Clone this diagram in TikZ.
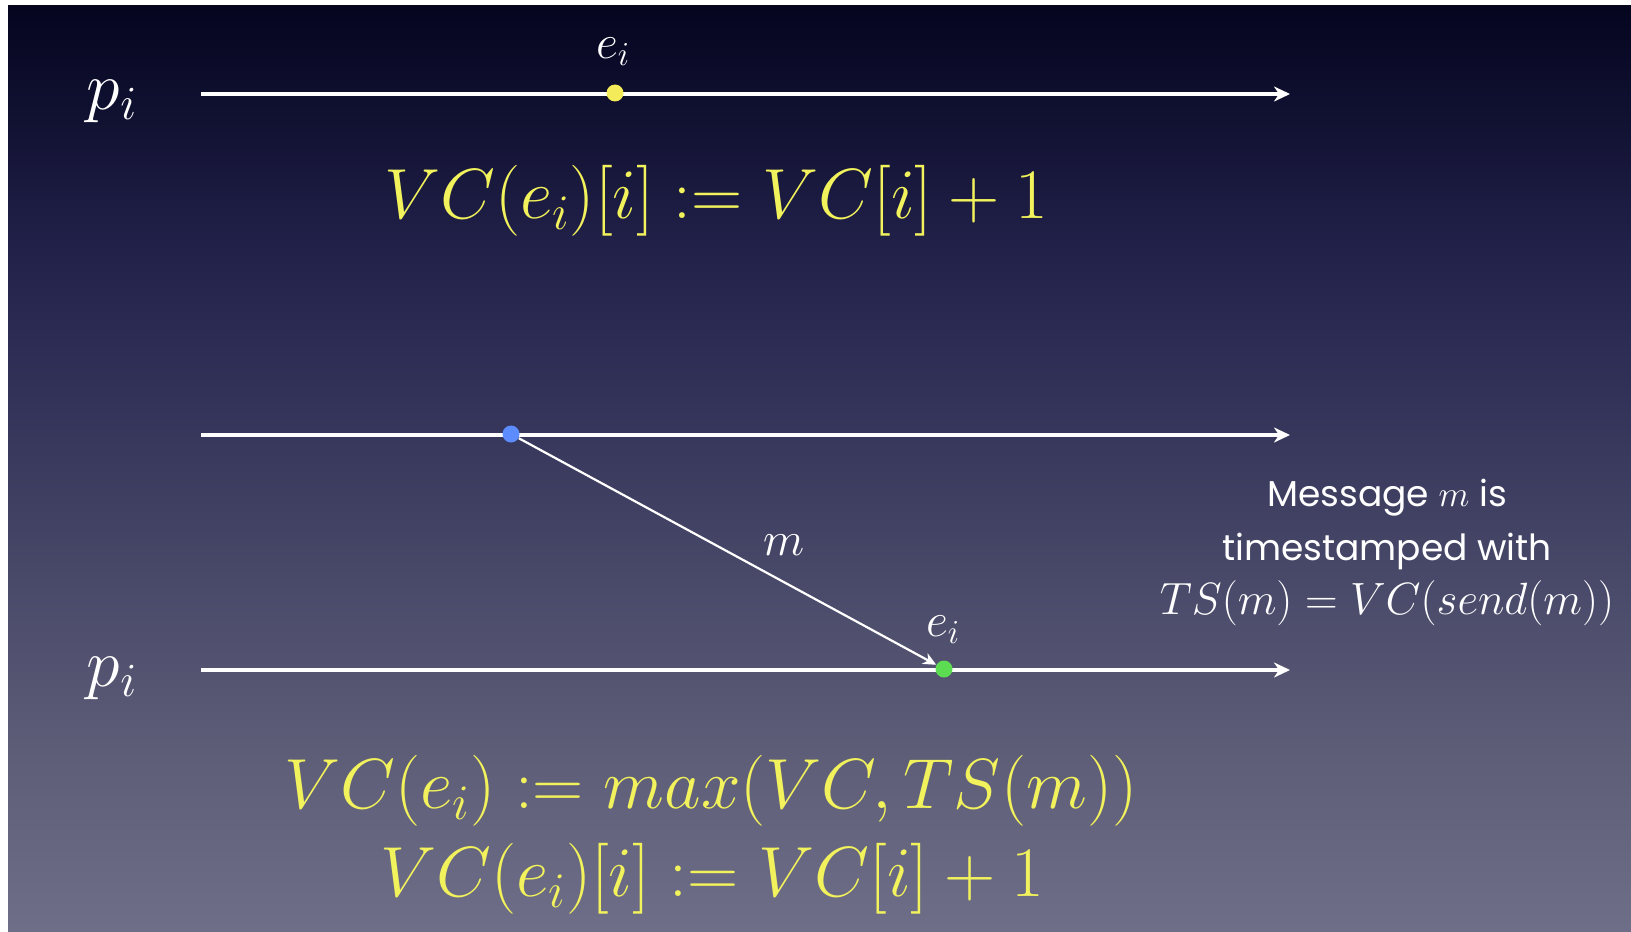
\RequirePackage{fix-cm}
\documentclass[tikz,border=0pt]{standalone}
\usepackage{fontspec}
\newfontfamily\msgfont{Poppins}
\usetikzlibrary{arrows.meta}
\definecolor{bgA}{HTML}{6E6E88}
\definecolor{bgB}{HTML}{5D5D78}
\definecolor{bgC}{HTML}{3F3F62}
\definecolor{bgD}{HTML}{2D2D55}
\definecolor{bgE}{HTML}{22214A}
\definecolor{bgF}{HTML}{111132}
\definecolor{bgG}{HTML}{050520}
\definecolor{fyellow}{RGB}{242,242,92}
\definecolor{dotY}{RGB}{243,235,90}
\definecolor{dotB}{RGB}{92,140,255}
\definecolor{dotG}{RGB}{92,220,80}
\pgfdeclareverticalshading{bgshade}{100bp}{color(0bp)=(bgA); color(25bp)=(bgA); color(34.8bp)=(bgB); color(48.3bp)=(bgC); color(56.4bp)=(bgD); color(61.8bp)=(bgE); color(68.8bp)=(bgF); color(75bp)=(bgG); color(100bp)=(bgG)}
\tikzset{
  timeline/.style={white, line width=1.6pt, -{Stealth[length=8pt,width=7.5pt,inset=2.5pt]}},
  msgarrow/.style={white, line width=1.1pt, -{Stealth[length=6.5pt,width=6pt,inset=2pt]}},
  evdot/.style={circle, inner sep=0pt, minimum size=8.5pt, draw=none},
  plabel/.style={text=white, inner sep=0pt, font=\fontsize{34}{40}\selectfont},
  elabel/.style={text=white, inner sep=0pt, font=\fontsize{24}{28}\selectfont},
  formula/.style={text=fyellow, inner sep=0pt, font=\fontsize{35.5}{42}\selectfont},
  msgtext/.style={text=white, inner sep=0pt, align=center, font=\msgfont\fontsize{18}{27}\selectfont}
}
\begin{document}
\begin{tikzpicture}[x=0.5pt,y=-0.5pt]
\useasboundingbox (0,0) rectangle (1631,931);
\fill[white] (0,0) rectangle (1631,931);
\shade[shading=bgshade] (8,6) rectangle (1631,931);

% timeline end points
\coordinate (l1s) at (201,94);  \coordinate (l1e) at (1290,94);
\coordinate (l2s) at (201,435); \coordinate (l2e) at (1290,435);
\coordinate (l3s) at (201,670); \coordinate (l3e) at (1290,670);
\draw[timeline] (l1s) -- (l1e);
\draw[timeline] (l2s) -- (l2e);
\draw[timeline] (l3s) -- (l3e);

% top process
\node[plabel] (p1) at (112,101) {$p_i$};
\node[evdot, fill=dotY] (e1) at (615,93) {};
\node[elabel] (e1l) at (613,52) {$e_i$};
\node[formula] (f1) at (716,201) {$VC(e_i)[i] := VC[i] + 1$};

% bottom processes
\node[evdot, fill=dotB] (snd) at (511,434) {};
\node[evdot, fill=dotG] (rcv) at (944,669) {};
\draw[msgarrow] (snd) -- (rcv);
\node[elabel] (ml) at (784,545) {$m$};
\node[elabel] (e2l) at (943,630) {$e_i$};
\node[plabel] (p2) at (112,678) {$p_i$};

\node[msgtext] (msg) at (1387,552) {Message $m$ is\\timestamped with\\{\fontsize{22.6}{27}\selectfont$TS(m) = VC(send(m))$}};

\node[formula] (f2) at (711,791) {$VC(e_i) := max(VC, TS(m))$};
\node[formula] (f3) at (712,879) {$VC(e_i)[i] := VC[i] + 1$};
\end{tikzpicture}
\end{document}
